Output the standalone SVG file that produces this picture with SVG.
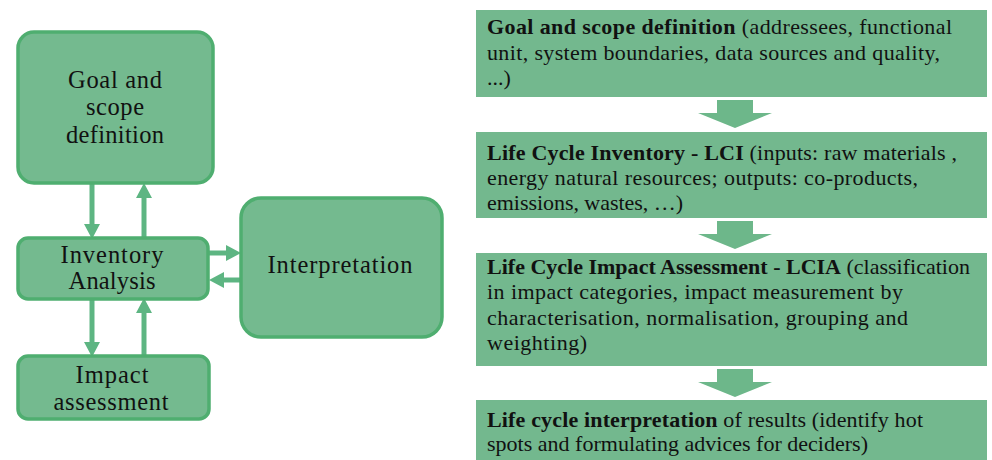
<svg xmlns="http://www.w3.org/2000/svg" width="992" height="460" viewBox="0 0 992 460">
<style>
  .lbox { fill: #74ba8f; stroke: #4fae70; stroke-width: 3.5; }
  .rbox { fill: #73b88e; }
  .ltxt { font-family: "Liberation Serif", "DejaVu Serif", serif; font-size: 24.5px; fill: #111; text-anchor: middle; }
  .rtxt { font-family: "Liberation Serif", "DejaVu Serif", serif; font-size: 22px; fill: #111; }
  .b { font-weight: bold; }
  .conn { stroke: #5db582; stroke-width: 5; fill: none; }
  .block { fill: #6db78a; }
</style>
<defs>
  <marker id="ah" markerUnits="userSpaceOnUse" markerWidth="16" markerHeight="16" refX="0" refY="8" orient="auto">
    <path d="M0,0 L15,8 L0,16 z" fill="#5db582"/>
  </marker>
</defs>
<rect width="992" height="460" fill="#ffffff"/>

<g id="connectors">
  <line class="conn" x1="92" y1="184" x2="92" y2="224" marker-end="url(#ah)"/>
  <line class="conn" x1="144" y1="237" x2="144" y2="198" marker-end="url(#ah)"/>
  <line class="conn" x1="92" y1="300" x2="92" y2="342" marker-end="url(#ah)"/>
  <line class="conn" x1="144" y1="355" x2="144" y2="313" marker-end="url(#ah)"/>
  <line class="conn" x1="209" y1="253" x2="226" y2="253" marker-end="url(#ah)"/>
  <line class="conn" x1="240" y1="280" x2="224" y2="280" marker-end="url(#ah)"/>
  <polygon class="block" points="717,100 753,100 753,113 772,113 735,128 698,113 717,113"/>
  <polygon class="block" points="717,221 753,221 753,234 772,234 735,249 698,234 717,234"/>
  <polygon class="block" points="717,369 753,369 753,382 772,382 735,397 698,382 717,382"/>
</g>

<g id="goal">
  <rect class="lbox" x="18" y="32" width="195" height="151" rx="16"/>
  <text class="ltxt" x="115" y="88" textLength="94">Goal and</text>
  <text class="ltxt" x="115" y="115" textLength="58">scope</text>
  <text class="ltxt" x="115" y="143" textLength="98">definition</text>
</g>
<g id="inventory">
  <rect class="lbox" x="18" y="238" width="190" height="61" rx="10"/>
  <text class="ltxt" x="112" y="263" textLength="103">Inventory</text>
  <text class="ltxt" x="112" y="289" textLength="87">Analysis</text>
</g>
<g id="impact">
  <rect class="lbox" x="18" y="356" width="191" height="63" rx="10"/>
  <text class="ltxt" x="112" y="383" textLength="73">Impact</text>
  <text class="ltxt" x="111" y="410" textLength="115">assessment</text>
</g>
<g id="interpretation">
  <rect class="lbox" x="241" y="198" width="201" height="139" rx="20"/>
  <text class="ltxt" x="340" y="273" textLength="145">Interpretation</text>
</g>

<g id="step1">
  <rect class="rbox" x="476" y="10" width="511" height="87"/>
  <text class="rtxt" x="487" y="34" textLength="465"><tspan class="b">Goal and scope definition</tspan> (addressees, functional</text>
  <text class="rtxt" x="487" y="60" textLength="453">unit, system boundaries, data sources and quality,</text>
  <text class="rtxt" x="487" y="85">...)</text>
</g>
<g id="step2">
  <rect class="rbox" x="476" y="132" width="511" height="86"/>
  <text class="rtxt" x="487" y="160" textLength="470"><tspan class="b">Life Cycle Inventory - LCI</tspan> (inputs: raw materials ,</text>
  <text class="rtxt" x="487" y="185" textLength="431">energy natural resources; outputs: co-products,</text>
  <text class="rtxt" x="487" y="210" textLength="196">emissions, wastes, …)</text>
</g>
<g id="step3">
  <rect class="rbox" x="476" y="253" width="511" height="113"/>
  <text class="rtxt" x="487" y="274" textLength="483"><tspan class="b">Life Cycle Impact Assessment - LCIA</tspan> (classification</text>
  <text class="rtxt" x="487" y="299" textLength="416">in impact categories, impact measurement by</text>
  <text class="rtxt" x="487" y="325" textLength="421">characterisation, normalisation, grouping and</text>
  <text class="rtxt" x="487" y="350" textLength="100">weighting)</text>
</g>
<g id="step4">
  <rect class="rbox" x="476" y="400" width="511" height="62"/>
  <text class="rtxt" x="487" y="427" textLength="436"><tspan class="b">Life cycle interpretation</tspan> of results (identify hot</text>
  <text class="rtxt" x="487" y="451" textLength="381">spots and formulating advices for deciders)</text>
</g>
</svg>
